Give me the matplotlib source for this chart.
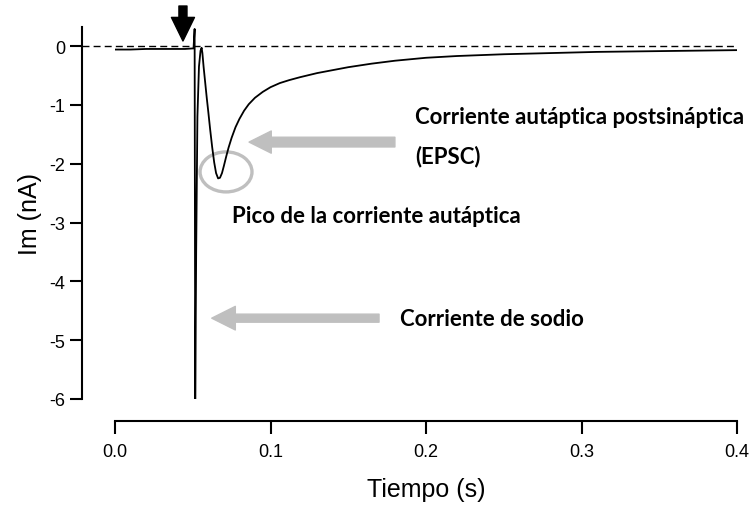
import matplotlib
matplotlib.use("Agg")
import matplotlib.pyplot as plt
from matplotlib.patches import Ellipse

# ---- data ----
time_s = [0.0, 0.01, 0.02, 0.03, 0.04, 0.045, 0.0505, 0.0512, 0.0516, 0.0522, 0.0530,
          0.0540, 0.0550, 0.0557, 0.0562, 0.0570, 0.0580, 0.0590, 0.0600, 0.0612,
          0.0625, 0.0638, 0.0650, 0.0663, 0.0675, 0.0688, 0.0700, 0.0715, 0.0730,
          0.0750, 0.0775, 0.0800, 0.0830, 0.0860, 0.0900, 0.0950, 0.1000, 0.1060,
          0.1120, 0.119, 0.13, 0.14, 0.15, 0.165, 0.18, 0.2, 0.22, 0.25, 0.28, 0.31,
          0.34, 0.37, 0.4]
current_nA = [-0.06, -0.06, -0.05, -0.05, -0.05, -0.05, -0.04, 0.29, -6.0, -3.5, -1.2,
              -0.35, -0.08, -0.03, -0.12, -0.36, -0.62, -0.88, -1.12, -1.42,
              -1.72, -1.98, -2.16, -2.25, -2.24, -2.16, -2.04, -1.88, -1.73,
              -1.56, -1.38, -1.24, -1.10, -0.99, -0.88, -0.78, -0.70, -0.63,
              -0.58, -0.53, -0.46, -0.41, -0.36, -0.30, -0.25, -0.20, -0.17, -0.14,
              -0.12, -0.10, -0.09, -0.08, -0.07]
x_ticks = [0.0, 0.1, 0.2, 0.3, 0.4]
x_tick_labels = ["0.0", "0.1", "0.2", "0.3", "0.4"]
y_ticks = [0, -1, -2, -3, -4, -5, -6]
y_tick_labels = ["0", "-1", "-2", "-3", "-4", "-5", "-6"]
baseline_nA = 0.0

W, H = 749, 506
fig = plt.figure(figsize=(W / 100, H / 100), dpi=100)
ax = fig.add_axes([115 / W, 1 - 400 / H, (737 - 115) / W, (400 - 27.6) / H])

ax.plot(time_s, current_nA, color="black", lw=1.3, solid_joinstyle="round")
ax.plot([-0.0212, 0.4], [baseline_nA, baseline_nA], color="black", lw=1.0,
        ls=(0, (5, 3)), clip_on=False)

ax.set_xlim(0, 0.4)
ax.set_ylim(-6, 0.33)
for s in ["top", "right"]:
    ax.spines[s].set_visible(False)
ax.spines["left"].set_position(("outward", 33 * 0.72))
ax.spines["bottom"].set_position(("outward", 22 * 0.72))
for s in ["left", "bottom"]:
    ax.spines[s].set_linewidth(1.5)
ax.set_xticks(x_ticks)
ax.set_xticklabels(x_tick_labels, family="Liberation Sans", fontsize=13)
ax.set_yticks(y_ticks)
ax.set_yticklabels(y_tick_labels, family="Liberation Sans", fontsize=13)
ax.tick_params(width=1.5, length=9)
ax.tick_params(axis="x", pad=7)
ax.tick_params(axis="y", pad=3)
ax.set_xlabel("Tiempo (s)", family="Liberation Sans", fontsize=18, labelpad=12)
ax.set_ylabel("Im (nA)", family="Liberation Sans", fontsize=18, labelpad=5)

# stimulus arrow
ax.annotate("", xy=(0.0437, 0.085), xytext=(0.0437, 0.68), xycoords="data",
            arrowprops=dict(width=5.8, headwidth=16.6, headlength=17, shrink=0,
                            facecolor="black", edgecolor="black"),
            annotation_clip=False)
# gray arrows
gray = "#bfbfbf"
ax.annotate("", xy=(0.0862, -1.633), xytext=(0.18, -1.633),
            arrowprops=dict(width=7, headwidth=16, headlength=16, shrink=0,
                            facecolor=gray, edgecolor=gray))
ax.annotate("", xy=(0.0622, -4.626), xytext=(0.1698, -4.626),
            arrowprops=dict(width=5.8, headwidth=17, headlength=17, shrink=0,
                            facecolor=gray, edgecolor=gray))
ax.add_patch(Ellipse((0.0714, -2.14), 0.0334, 0.68, fill=False, edgecolor=gray, lw=2.4))

tkw = dict(family="Lato", fontweight="bold", fontsize=16, va="center", ha="left")
fig.text(415 / W, 1 - 118 / H, "Corriente autáptica postsináptica", **tkw)
fig.text(415 / W, 1 - 157 / H, "(EPSC)", **tkw)
fig.text(232 / W, 1 - 217 / H, "Pico de la corriente autáptica", **tkw)
fig.text(400 / W, 1 - 320 / H, "Corriente de sodio", **tkw)

fig.savefig("out.png", dpi=100)
